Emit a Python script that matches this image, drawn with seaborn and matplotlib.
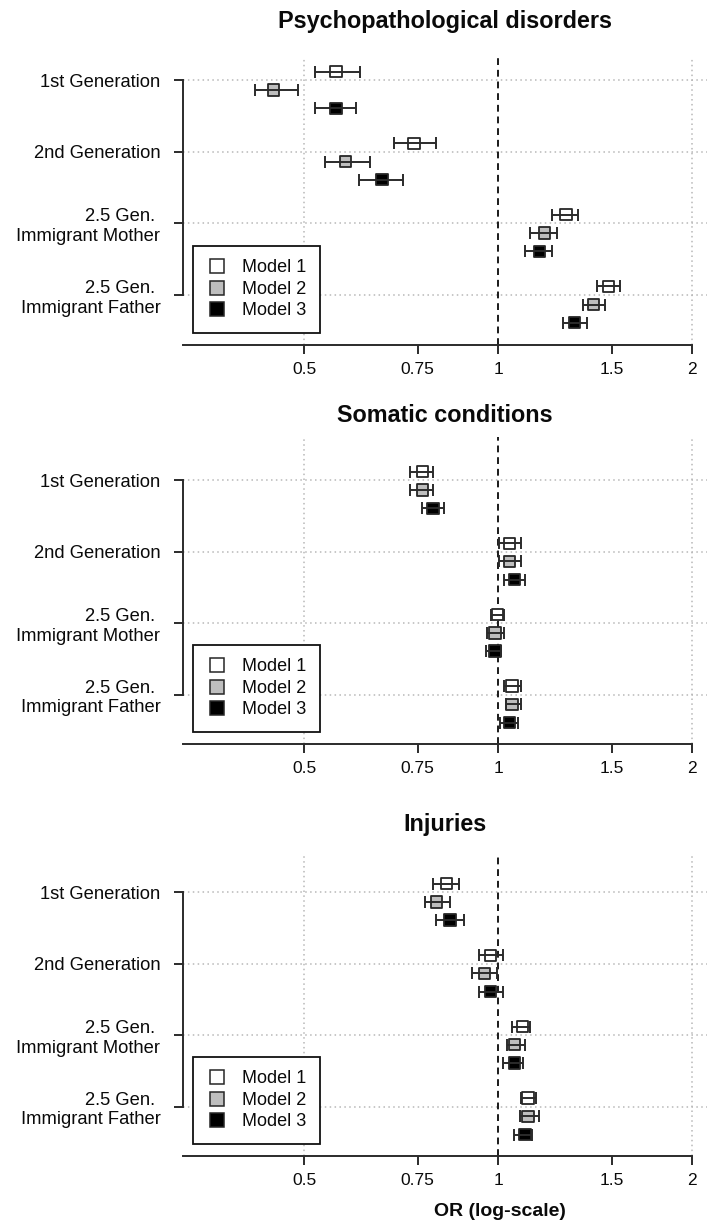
import numpy as np
import pandas as pd
import matplotlib
matplotlib.use("Agg")
import matplotlib.pyplot as plt
from matplotlib.lines import Line2D
import seaborn as sns

# ---- data -------------------------------------------------------------
groups = ["1st Generation", "2nd Generation",
          "2.5 Gen. \nImmigrant Mother", "2.5 Gen. \nImmigrant Father"]
models = ["Model 1", "Model 2", "Model 3"]
model_fill = ["white", "#bebebe", "black"]
panel_titles = ["Psychopathological disorders", "Somatic conditions", "Injuries"]
tick_values = [0.5, 0.75, 1, 1.5, 2]
tick_labels = ["0.5", "0.75", "1", "1.5", "2"]

# odds ratios, rows = models, columns = groups
psych_or = [[0.560, 0.740, 1.274, 1.485],
            [0.448, 0.580, 1.179, 1.404],
            [0.560, 0.660, 1.159, 1.313]]
psych_lo = [[0.519, 0.690, 1.210, 1.425],
            [0.419, 0.539, 1.120, 1.352],
            [0.519, 0.609, 1.101, 1.262]]
psych_hi = [[0.610, 0.802, 1.331, 1.548],
            [0.489, 0.632, 1.232, 1.463],
            [0.602, 0.711, 1.210, 1.372]]

somatic_or = [[0.762, 1.041, 0.997, 1.050],
              [0.762, 1.041, 0.989, 1.050],
              [0.792, 1.061, 0.989, 1.041]]
somatic_lo = [[0.729, 1.003, 0.973, 1.020],
              [0.729, 1.003, 0.962, 1.029],
              [0.762, 1.020, 0.959, 1.005]]
somatic_hi = [[0.791, 1.084, 1.020, 1.084],
              [0.791, 1.084, 1.020, 1.084],
              [0.824, 1.102, 1.011, 1.072]]

injury_or = [[0.831, 0.973, 1.092, 1.112],
             [0.802, 0.953, 1.059, 1.112],
             [0.842, 0.973, 1.059, 1.101]]
injury_lo = [[0.792, 0.932, 1.051, 1.084],
             [0.771, 0.912, 1.033, 1.080],
             [0.802, 0.932, 1.018, 1.059]]
injury_hi = [[0.870, 1.018, 1.119, 1.143],
             [0.842, 0.997, 1.101, 1.156],
             [0.884, 1.018, 1.094, 1.130]]

panels = [(psych_or, psych_lo, psych_hi),
          (somatic_or, somatic_lo, somatic_hi),
          (injury_or, injury_lo, injury_hi)]

group_pos = [4, 3, 2, 1]
model_offset = [0.12, -0.135, -0.39]

# ---- styling ----------------------------------------------------------
sns.set_theme(style="white")
plt.rcParams["font.family"] = ["Liberation Sans", "DejaVu Sans"]

W, H = 707, 1226
fig = plt.figure(figsize=(W / 100, H / 100), dpi=100)

x_left, x_right = 0.3245, 2.109
# axes boxes in pixels: (top, bottom) and y-limits
boxes = [(56.7, 345.0, (0.30, 4.33)),
         (436.7, 744.0, (0.31, 4.61)),
         (853.3, 1156.0, (0.31, 4.545))]
title_y = [21.7, 415.0, 825.0]
ax_left_px = 183.3

spine_col = "#2b2b2b"
grid_col = "#b8b8b8"
text_col = "#0a0a0a"

for i, ((top, bot, ylim), (ors, los, his)) in enumerate(zip(boxes, panels)):
    ax = fig.add_axes([ax_left_px / W, 1 - bot / H,
                       (W - ax_left_px) / W, (bot - top) / H])

    rows = []
    for m, model in enumerate(models):
        for g, grp in enumerate(groups):
            rows.append({"group": grp, "model": model,
                         "y": group_pos[g] + model_offset[m],
                         "OR": ors[m][g], "lo": los[m][g], "hi": his[m][g]})
    df = pd.DataFrame(rows)

    ax.set_xscale("log")
    ax.set_xlim(x_left, x_right)
    ax.set_ylim(*ylim)

    # reference lines
    for gy in group_pos:
        ax.axhline(gy, color=grid_col, lw=1.1, ls=(0, (1, 2.2)), zorder=1)
    for gx in (0.5, 2):
        ax.axvline(gx, color=grid_col, lw=1.1, ls=(0, (1, 2.2)), zorder=1)
    ax.axvline(1, color="#1a1a1a", lw=1.4, ls=(0, (3.5, 2.5)), zorder=2)

    sns.scatterplot(data=df, x="OR", y="y", hue="model",
                    palette=dict(zip(models, model_fill)),
                    marker="s", s=66, edgecolor="#262626", linewidth=1.3,
                    legend=False, ax=ax, zorder=3)
    ax.errorbar(df["OR"], df["y"],
                xerr=[df["OR"] - df["lo"], df["hi"] - df["OR"]],
                fmt="none", ecolor="#2b2b2b", elinewidth=1.4,
                capsize=4.3, capthick=1.4, zorder=4)

    ax.set_xticks(tick_values)
    ax.set_xticklabels(tick_labels)
    ax.xaxis.set_minor_locator(matplotlib.ticker.NullLocator())
    ax.set_yticks(group_pos)
    ax.set_yticklabels(groups, multialignment="right")
    ax.set_xlabel("")
    ax.set_ylabel("")

    for s in ("top", "right"):
        ax.spines[s].set_visible(False)
    ax.spines["left"].set_bounds(1, 4)
    ax.spines["bottom"].set_bounds(x_left, 2)
    for s in ("left", "bottom"):
        ax.spines[s].set_color(spine_col)
        ax.spines[s].set_linewidth(1.4)
    ax.tick_params(axis="both", which="major", direction="out", length=6.5,
                   width=1.4, color=spine_col, labelcolor=text_col,
                   left=True, bottom=True)
    ax.tick_params(axis="y", pad=10, labelsize=13.2)
    ax.tick_params(axis="x", pad=6, labelsize=12.5)

    handles = [Line2D([], [], marker="s", ls="none", markersize=10,
                      markerfacecolor=c, markeredgecolor="#262626",
                      markeredgewidth=1.1) for c in model_fill]
    ax_h = bot - top
    leg = ax.legend(handles, models, loc="lower left",
                    bbox_to_anchor=(10 / (W - ax_left_px), 12 / ax_h),
                    borderaxespad=0, frameon=True, fancybox=False,
                    edgecolor="#111111", framealpha=1, fontsize=13,
                    handlelength=1.17, handletextpad=0.8,
                    borderpad=0.75, labelspacing=0.25)
    leg.get_frame().set_linewidth(1.3)
    for t in leg.get_texts():
        t.set_color(text_col)
    leg.set_zorder(6)

    fig.text(445 / W, 1 - title_y[i] / H, panel_titles[i],
             ha="center", va="center", fontsize=16.8, fontweight="bold",
             color=text_col)

fig.text(500 / W, 1 - 1212 / H, "OR (log-scale)", ha="center", va="center",
         fontsize=14, fontweight="bold", color=text_col)

fig.savefig("out.png", dpi=100)
